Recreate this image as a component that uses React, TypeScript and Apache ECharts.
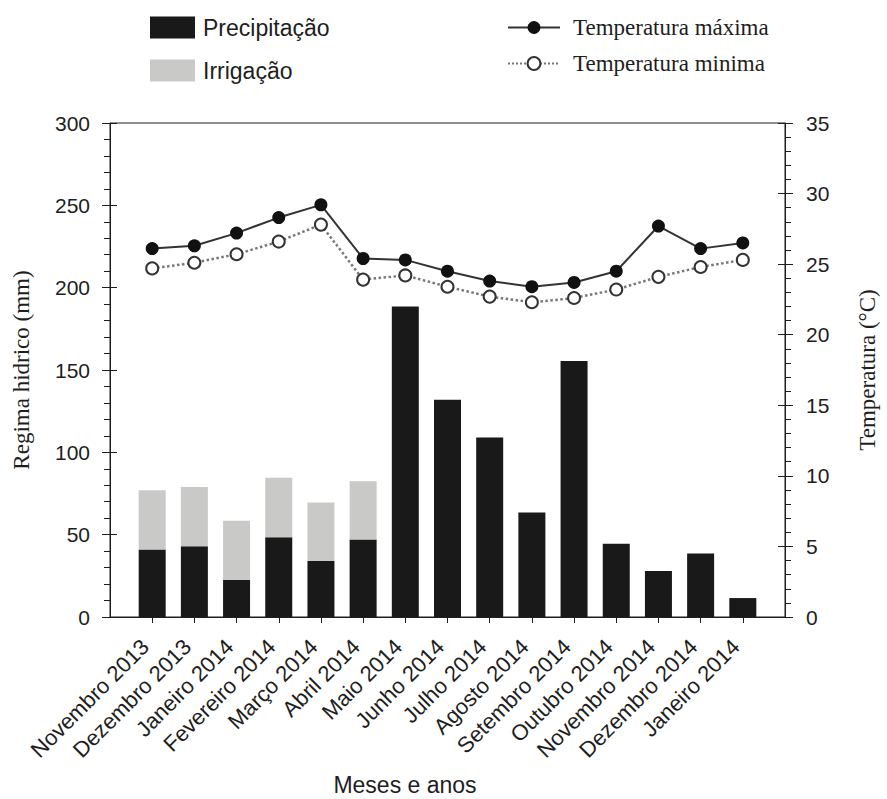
import React, { useEffect, useRef } from "react";
import * as echarts from "echarts";

const categories = [
  "Novembro 2013", "Dezembro 2013", "Janeiro 2014", "Fevereiro 2014", "Março 2014",
  "Abril 2014", "Maio 2014", "Junho 2014", "Julho 2014", "Agosto 2014",
  "Setembro 2014", "Outubro 2014", "Novembro 2014", "Dezembro 2014", "Janeiro 2014",
];
const precipitacao = [41, 43, 22.5, 48.5, 34, 47, 188.5, 132, 109, 63.5, 155.5, 44.5, 28, 38.5, 11.5];
const irrigacao = [36, 36, 36, 36, 35.5, 35.5, null, null, null, null, null, null, null, null, null];
const tempMax = [26.1, 26.3, 27.2, 28.3, 29.2, 25.4, 25.3, 24.5, 23.8, 23.4, 23.7, 24.5, 27.7, 26.1, 26.5];
const tempMin = [24.7, 25.1, 25.7, 26.6, 27.8, 23.9, 24.2, 23.4, 22.7, 22.3, 22.6, 23.2, 24.1, 24.8, 25.3];
const leftTicks = { min: 0, max: 300, interval: 50 };
const rightTicks = { min: 0, max: 35, interval: 5 };

const SANS = "'Liberation Sans', Arial, Helvetica, sans-serif";
const SERIF = "'Liberation Serif', 'Times New Roman', serif";
const INK = "#1e1e1e";

const pad = (arr: (number | null)[]) => [null, ...arr, null];

export default function App() {
  const ref = useRef<HTMLDivElement>(null);
  useEffect(() => {
    if (!ref.current) return;
    const chart = echarts.init(ref.current, undefined, { renderer: "svg" });
    const axisData = ["", ...categories, " "];
    const n = axisData.length;
    const option: any = {
      animation: false,
      backgroundColor: "#ffffff",
      grid: {
        left: 110, right: 90, top: 123, bottom: 182,
        show: true, borderColor: INK, borderWidth: 1, backgroundColor: "transparent",
      },
      legend: [
        {
          data: ["Precipitação", "Irrigação"],
          orient: "vertical", left: 145, top: 11,
          itemWidth: 45, itemHeight: 22, itemGap: 20,
          icon: "rect",
          textStyle: { fontFamily: SANS, fontSize: 23, color: INK, padding: [0, 0, 0, 3] },
        },
        {
          data: ["Temperatura máxima", "Temperatura minima"],
          orient: "vertical", left: 502, top: 11,
          itemWidth: 52, itemHeight: 16, itemGap: 13,
          textStyle: { fontFamily: SERIF, fontSize: 23, color: INK, padding: [0, 0, 0, 8] },
        },
      ],
      xAxis: {
        type: "category",
        data: axisData,
        boundaryGap: false,
        axisLine: { show: true, lineStyle: { color: INK, width: 1 } },
        axisTick: {
          show: true, length: 6, lineStyle: { color: INK },
          interval: (i: number) => i > 0 && i < n - 1,
        },
        axisLabel: {
          interval: 0, rotate: 45, margin: 19, padding: [0, 10, 0, 0],
          fontFamily: SANS, fontSize: 22, color: INK,
        },
        splitLine: { show: false },
      },
      yAxis: [
        {
          type: "value", position: "left", ...leftTicks,
          axisLine: { show: true, lineStyle: { color: INK } },
          axisTick: { show: true, length: 8, lineStyle: { color: INK } },
          minorTick: { show: true, splitNumber: 5, length: 6, lineStyle: { color: INK } },
          splitLine: { show: false },
          axisLabel: { fontFamily: SANS, fontSize: 21, color: INK, margin: 20 },
          name: "Regima hidrico (mm)", nameLocation: "middle", nameGap: 77, nameRotate: 90,
          nameTextStyle: { fontFamily: SERIF, fontSize: 23, color: INK },
        },
        {
          type: "value", position: "right", ...rightTicks,
          axisLine: { show: true, lineStyle: { color: INK } },
          axisTick: { show: true, length: 8, lineStyle: { color: INK } },
          minorTick: { show: true, splitNumber: 5, length: 6, lineStyle: { color: INK } },
          splitLine: { show: false },
          axisLabel: { fontFamily: SANS, fontSize: 21, color: INK, margin: 21 },
          name: "Temperatura (°C)", nameLocation: "middle", nameGap: 71, nameRotate: 90,
          nameTextStyle: { fontFamily: SERIF, fontSize: 23, color: INK },
        },
        {
          type: "value", position: "left", ...leftTicks,
          axisLine: { show: false }, axisLabel: { show: false }, splitLine: { show: false },
          axisTick: { show: true, inside: true, length: 7, lineStyle: { color: INK } },
        },
        {
          type: "value", position: "right", ...rightTicks,
          axisLine: { show: false }, axisLabel: { show: false }, splitLine: { show: false },
          axisTick: { show: true, inside: true, length: 7, lineStyle: { color: INK } },
        },
      ],
      series: [
        {
          name: "Precipitação", type: "bar", stack: "agua", yAxisIndex: 0,
          barWidth: 27, data: pad(precipitacao),
          itemStyle: { color: "#191919" },
        },
        {
          name: "Irrigação", type: "bar", stack: "agua", yAxisIndex: 0,
          barWidth: 27, data: pad(irrigacao),
          itemStyle: { color: "#c9c9c7" },
        },
        {
          name: "Temperatura máxima", type: "line", yAxisIndex: 1,
          data: pad(tempMax), symbol: "circle", symbolSize: 13,
          itemStyle: { color: "#111111" },
          lineStyle: { color: "#333333", width: 2 },
          z: 4,
        },
        {
          name: "Temperatura minima", type: "line", yAxisIndex: 1,
          data: pad(tempMin), symbol: "circle", symbolSize: 12,
          itemStyle: { color: "#ffffff", borderColor: "#333333", borderWidth: 2 },
          lineStyle: { color: "#777777", width: 2.5, type: "dotted" },
          z: 3,
        },
      ],
      graphic: [
        {
          type: "text", x: 405, y: 785,
          style: {
            text: "Meses e anos", fontFamily: SANS, fontSize: 23, fill: INK,
            textAlign: "center", textVerticalAlign: "middle",
          },
        },
      ],
    };
    chart.setOption(option);
    return () => chart.dispose();
  }, []);
  return (
    <div
      ref={ref}
      style={{ position: "fixed", left: 0, top: 0, width: 887, height: 799, background: "#fff" }}
    />
  );
}
